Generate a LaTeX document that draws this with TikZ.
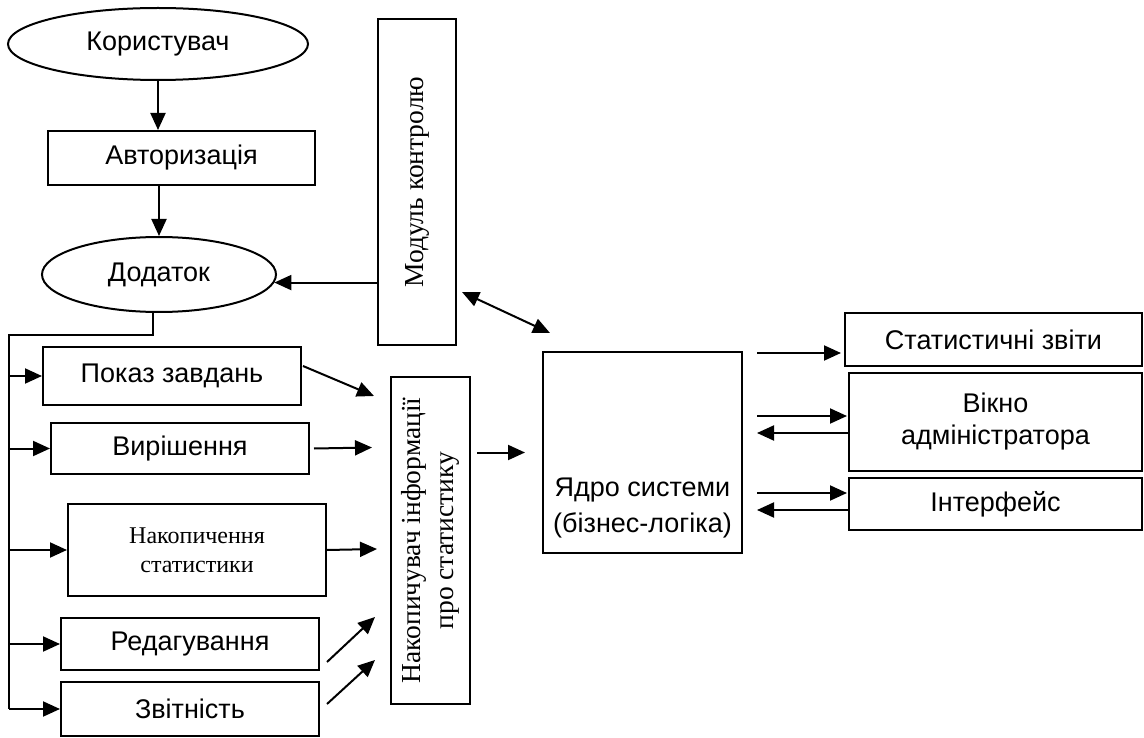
\documentclass[tikz,border=0pt]{standalone}
\usepackage{fontspec}
\setmainfont{Liberation Serif}
\setsansfont{Liberation Sans}
\usepackage{graphicx}
\usetikzlibrary{arrows.meta, calc, shapes.geometric}

\begin{document}
\begin{tikzpicture}[
    x=1pt, y=-1pt,
    >={Triangle[length=17pt, width=15pt]},
    line width=2pt,
    font=\sffamily\fontsize{27}{32}\selectfont,
    % Define styles for the different node types
    plainbox/.style={rectangle, draw, line width=2pt, align=center, inner sep=0pt},
    roundnode/.style={ellipse, draw, line width=2pt, align=center, inner sep=0pt},
    serifbox/.style={plainbox, font=\rmfamily\fontsize{27.5}{33}\selectfont},
    arr/.style={->, line width=2pt},
    dblarr/.style={<->, line width=2pt},
]
\useasboundingbox (0,0) rectangle (1144,738);

% -------------------------
% Entry Nodes
% -------------------------
\node (user) [roundnode, minimum width=300pt, minimum height=72pt] at (158,44) {Користувач};
\node (auth) [plainbox, minimum width=267pt, minimum height=54pt] at (181.5,158) {Авторизація};
\node (app) [roundnode, minimum width=234pt, minimum height=75pt] at (159,274.5) {Додаток};
\node (ctrl) [serifbox, minimum width=78pt, minimum height=326pt] at (417,182) {\rotatebox{90}{Модуль контролю}};

% -------------------------
% Application Functions
% -------------------------
\node (tasks) [plainbox, minimum width=258pt, minimum height=58pt] at (172,376) {Показ завдань};
\node (solve) [plainbox, minimum width=258pt, minimum height=51pt] at (180,448.5) {Вирішення};
\node (accum) [serifbox, font=\rmfamily\fontsize{24}{29}\selectfont, minimum width=258pt, minimum height=92pt] at (197,550) {Накопичення\\статистики};
\node (edit) [plainbox, minimum width=258pt, minimum height=52pt] at (190,644) {Редагування};
\node (report) [plainbox, minimum width=258pt, minimum height=54pt] at (190,709) {Звітність};

\node (collect) [serifbox, minimum width=79pt, minimum height=327pt] at (430.5,540.5) {\rotatebox{90}{\begin{tabular}{@{}c@{}}Накопичувач інформації\\про статистику\end{tabular}}};

% -------------------------
% Core and Outputs
% -------------------------
\node (core) [plainbox, minimum width=199pt, minimum height=201pt,
    label={[align=center, anchor=south, inner sep=0pt, yshift=15pt]south:Ядро системи\\[4pt](бізнес-логіка)}] at (642.5,452.5) {};

\node (stats) [plainbox, minimum width=297pt, minimum height=53pt] at (993.5,339.5) {Статистичні звіти};
\node (admin) [plainbox, minimum width=293pt, minimum height=98pt] at (995.5,422) {Вікно\\адміністратора};
\node (iface) [plainbox, minimum width=293pt, minimum height=52pt] at (995.5,504) {Інтерфейс};

% -------------------------
% Arrow Connections
% -------------------------

% Entry flow
\draw[arr] (user.south) -- (user.south |- auth.north);
\draw[arr] (app.north |- auth.south) -- (app.north);
\draw[arr] (ctrl.west |- app.-4) -- (app.-4);
\draw[dblarr] ($(ctrl.south east)+(5,-54)$) -- ($(core.north west)+(8,-18)$);

% Branch bus from the application
\coordinate (bustop) at ($(app.south)+(-150,22)$);
\draw ([xshift=-6pt]app.south) |- (bustop) -- (bustop |- report.west);
\foreach \branch in {tasks, solve, accum, edit, report}
    \draw[arr] (bustop |- \branch.west) -- (\branch.west);

% Functions to the collector
\draw[arr] ($(tasks.north east)+(1,20)$) -- ($(collect.north west)+(-16,20)$);
\draw[arr] ($(solve.east)+(4,0)$) -- ($(collect.north west)+(-18,71.5)$);
\draw[arr] (accum.east) -- ($(collect.north west)+(-13,173)$);
\draw[arr] ($(edit.south east)+(7,-9)$) -- ($(collect.north west)+(-15,241)$);
\draw[arr] ($(report.east)+(7,-5)$) -- ($(collect.north west)+(-15,284)$);

% Collector to core
\draw[arr, shorten <=6pt, shorten >=17pt] (collect.east |- core.west) -- (core.west);

% Core to outputs
\draw[arr] ($(core.east |- stats.west)+(14,13.5)$) -- ($(stats.west)+(-3,13.5)$);
\draw[arr] ($(core.east |- admin.west)+(14,-6)$) -- ($(admin.west)+(-1,-6)$);
\draw[arr] ($(admin.west)+(0,11)$) -- ($(core.east |- admin.west)+(14,11)$);
\draw[arr] ($(core.east |- iface.west)+(14,-11)$) -- ($(iface.west)+(-1,-11)$);
\draw[arr] ($(iface.west)+(0,6)$) -- ($(core.east |- iface.west)+(14,6)$);

\end{tikzpicture}
\end{document}
